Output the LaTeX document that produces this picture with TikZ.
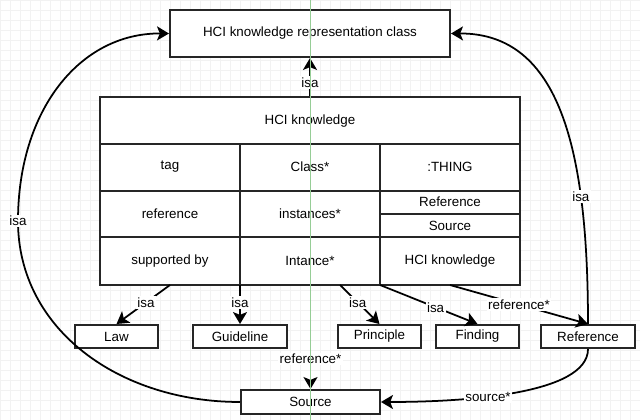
\documentclass[tikz,border=0pt]{standalone}
\usepackage{fontspec}
\setmainfont{Liberation Sans}
\usepackage{tikz}
\usetikzlibrary{arrows.meta}

\definecolor{guidegreen}{RGB}{150,205,150}

\tikzset{
  box/.style={draw=black!85, line width=1.4pt, rectangle, fill=white, inner sep=0pt, font=\fontsize{9.5}{11}\selectfont},
  cell/.style={inner sep=0pt, font=\fontsize{9.5}{11}\selectfont},
  link/.style={draw=black, line width=1.25pt, -{Stealth[length=8.5pt,width=10pt,inset=2pt]}},
  lbl/.style={fill=white, inner sep=1pt, font=\fontsize{9.5}{11}\selectfont}
}

\begin{document}
\begin{tikzpicture}[x=0.025cm, y=-0.025cm]
        \useasboundingbox (0,0) rectangle (640,420);

        % faint background grid
        \foreach \gx in {0,10,...,640} \draw[black!5, line width=0.3pt] (\gx,0) -- (\gx,420);
        \foreach \gy in {0,10,...,420} \draw[black!5, line width=0.3pt] (0,\gy) -- (640,\gy);

        % Top class
        \node[box, minimum width=7cm, minimum height=1.175cm] (repclass) at (310,33.5) {HCI knowledge representation class};

        % HCI knowledge frame
        \node[box, minimum width=10.5cm, minimum height=4.7cm] (know) at (310,191) {};
        \draw[black!85, line width=1.4pt] (100,144) -- (520,144);
        \draw[black!85, line width=1.4pt] (100,191) -- (520,191);
        \draw[black!85, line width=1.4pt] (100,237) -- (520,237);
        \draw[black!85, line width=1.4pt] (240,144) -- (240,285);
        \draw[black!85, line width=1.4pt] (380,144) -- (380,285);
        \draw[black!85, line width=1.4pt] (380,214) -- (520,214);
        \node[cell] (khead) at (310,121) {HCI knowledge};
        \node[cell] (ktag) at (170,167) {tag};
        \node[cell] (kclass) at (310,167) {Class*};
        \node[cell] (kthing) at (450,167) {:THING};
        \node[cell] (kref) at (170,214) {reference};
        \node[cell] (kinst) at (310,214) {instances*};
        \node[cell] (kreftype) at (450,202) {Reference};
        \node[cell] (ksrctype) at (450,226) {Source};
        \node[cell] (ksupp) at (170,261) {supported by};
        \node[cell] (kintance) at (310,261) {Intance*};
        \node[cell] (kknow) at (450,261) {HCI knowledge};

        % Subclasses
        \node[box, minimum width=2.075cm, minimum height=0.575cm] (law) at (116.5,336.5) {Law};
        \node[box, minimum width=2.35cm, minimum height=0.575cm] (guideline) at (240,336.5) {Guideline};
        \node[box, minimum width=2.075cm, minimum height=0.575cm] (principle) at (379.5,336.5) {Principle};
        \node[box, minimum width=2.075cm, minimum height=0.575cm] (finding) at (477.5,336.5) {Finding};
        \node[box, minimum width=2.35cm, minimum height=0.575cm] (reference) at (588,336.5) {Reference};
        \node[box, minimum width=3.475cm, minimum height=0.6cm] (source) at (310.5,402) {Source};

        % Exit points on the frame
        \coordinate (olaw) at (170,285);
        \coordinate (oguide) at (240,285);
        \coordinate (osrc) at (310.5,285);
        \coordinate (oprin) at (340,285);
        \coordinate (ofind) at (380,285);
        \coordinate (oref) at (450,285);

        % isa links
        \draw[link] (know.north) -- node[lbl, pos=0.35] {isa} (repclass.south);
        \draw[link] (olaw) -- node[lbl, pos=0.45] {isa} (law.north);
        \draw[link] (oguide) -- node[lbl, pos=0.45] {isa} (guideline.north);
        \draw[link] (oprin) -- node[lbl, pos=0.45] {isa} (principle.north);
        \draw[link] (ofind) -- node[lbl, pos=0.57] {isa} (finding.north);
        \draw[link] (source.west) .. controls (120,402) and (18,330) .. (18,221) node[lbl] {isa}
            .. controls (18,110) and (80,33) .. (repclass.west);
        \draw[link] (reference.north) .. controls (588,150) and (560,33) .. node[lbl, pos=0.27] {isa} (repclass.east);

        % reference / source links
        \draw[link] (oref) -- node[lbl, pos=0.5] {reference*} (reference.north);
        \draw[link] (osrc) -- node[lbl, pos=0.71] {reference*} (source.north);
        \draw[link] (reference.south) .. controls (588,395) and (460,402) .. node[lbl, pos=0.6] {source*} (source.east);

        % guide line
        \draw[guidegreen, line width=0.6pt] (310,0) -- (310,420);
    \end{tikzpicture}
\end{document}
